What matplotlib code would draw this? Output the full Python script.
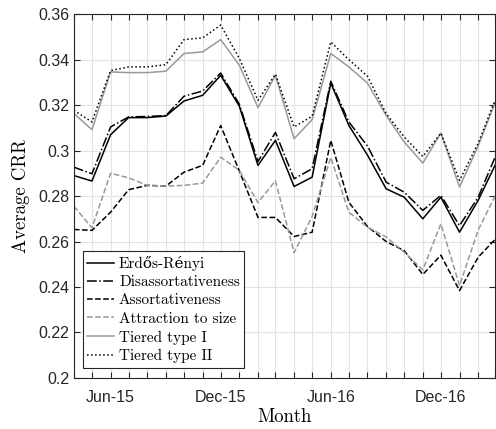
import numpy as np
import pandas as pd
import matplotlib
matplotlib.use("Agg")
import matplotlib.pyplot as plt

# monthly values, Apr-15 .. Mar-17
months = pd.date_range("2015-04-01", periods=24, freq="MS")

erdos_renyi = [0.2890, 0.2866, 0.3070, 0.3145, 0.3145, 0.3152, 0.3218, 0.3243,
               0.3331, 0.3195, 0.2935, 0.3045, 0.2842, 0.2883, 0.3297, 0.3111,
               0.2980, 0.2832, 0.2795, 0.2700, 0.2795, 0.2641, 0.2781, 0.2935]
disassort = [0.2927, 0.2898, 0.3104, 0.3148, 0.3150, 0.3154, 0.3239, 0.3262,
             0.3341, 0.3204, 0.2952, 0.3080, 0.2876, 0.2920, 0.3305, 0.3126,
             0.3020, 0.2861, 0.2817, 0.2737, 0.2803, 0.2670, 0.2795, 0.2970]
assort = [0.2653, 0.2649, 0.2729, 0.2828, 0.2847, 0.2844, 0.2905, 0.2935,
          0.3110, 0.2910, 0.2706, 0.2706, 0.2622, 0.2641, 0.3045, 0.2773,
          0.2666, 0.2600, 0.2560, 0.2455, 0.2540, 0.2384, 0.2531, 0.2609]
attraction = [0.2755, 0.2660, 0.2900, 0.2880, 0.2847, 0.2844, 0.2847, 0.2857,
              0.2971, 0.2913, 0.2771, 0.2867, 0.2551, 0.2710, 0.2970, 0.2729,
              0.2663, 0.2620, 0.2553, 0.2475, 0.2678, 0.2406, 0.2650, 0.2800]
tiered_1 = [0.3163, 0.3092, 0.3346, 0.3343, 0.3343, 0.3349, 0.3427, 0.3434,
            0.3488, 0.3375, 0.3189, 0.3331, 0.3052, 0.3136, 0.3427, 0.3368,
            0.3297, 0.3155, 0.3038, 0.2945, 0.3077, 0.2840, 0.3020, 0.3210]
tiered_2 = [0.3177, 0.3126, 0.3352, 0.3368, 0.3368, 0.3378, 0.3488, 0.3496,
            0.3552, 0.3405, 0.3221, 0.3336, 0.3104, 0.3151, 0.3478, 0.3400,
            0.3327, 0.3163, 0.3060, 0.2974, 0.3077, 0.2869, 0.3032, 0.3221]

labels = ["Erdős-Rényi", "Disassortativeness", "Assortativeness",
          "Attraction to size", "Tiered type I", "Tiered type II"]

serif = ["cmr10", "DejaVu Serif"]
sans = ["Liberation Sans", "DejaVu Sans"]
plt.rcParams["axes.formatter.use_mathtext"] = True


def main():
    fig = plt.figure(figsize=(4.96, 4.29), dpi=100)
    ax = fig.add_axes([0.149, 0.119, 0.849, 0.848])

    lw = 1.1
    ax.plot(months, erdos_renyi, color="black", lw=lw, ls="-", label=labels[0])
    ax.plot(months, disassort, color="black", lw=lw, ls="-.", label=labels[1])
    ax.plot(months, assort, color="black", lw=lw, ls="--", label=labels[2])
    ax.plot(months, attraction, color="0.6", lw=lw, ls="--", label=labels[3])
    ax.plot(months, tiered_1, color="0.6", lw=lw, ls="-", label=labels[4])
    ax.plot(months, tiered_2, color="black", lw=lw, ls=":", label=labels[5])

    ax.set_xlim(months[0], months[-1])
    ax.set_ylim(0.2, 0.36)
    ax.set_yticks(np.arange(0.2, 0.361, 0.02))
    ax.set_yticklabels(["0.2", "0.22", "0.24", "0.26", "0.28", "0.3",
                        "0.32", "0.34", "0.36"], family=sans, fontsize=11.5)

    ax.set_xticks(months)
    ax.set_xticklabels([m.strftime("%b-%y") if m.month in (6, 12) else ""
                        for m in months], family=sans, fontsize=11.5)

    ax.grid(True, color="#e3e3e3", lw=0.8)
    ax.set_axisbelow(True)
    ax.tick_params(direction="in", top=True, right=True, length=4,
                   color="#262626", labelcolor="#262626", width=0.8)
    ax.tick_params(axis="x", pad=9)
    ax.tick_params(axis="y", pad=3)
    for s in ax.spines.values():
        s.set_color("#262626")
        s.set_linewidth(0.8)

    ax.set_xlabel("Month", family=serif, fontsize=13.5, labelpad=2)
    ax.set_ylabel("Average CRR", family=serif, fontsize=13.5, labelpad=6)

    leg = ax.legend(loc="lower left", bbox_to_anchor=(9 / 421, 10 / 364),
                    borderaxespad=0, fancybox=False, framealpha=1,
                    edgecolor="#262626", handlelength=1.76, handletextpad=0.3,
                    labelspacing=0.3, borderpad=0.3,
                    prop={"family": serif, "size": 11})
    leg.get_frame().set_linewidth(0.8)

    fig.savefig("out.png", dpi=100)


if __name__ == '__main__':
    main()
